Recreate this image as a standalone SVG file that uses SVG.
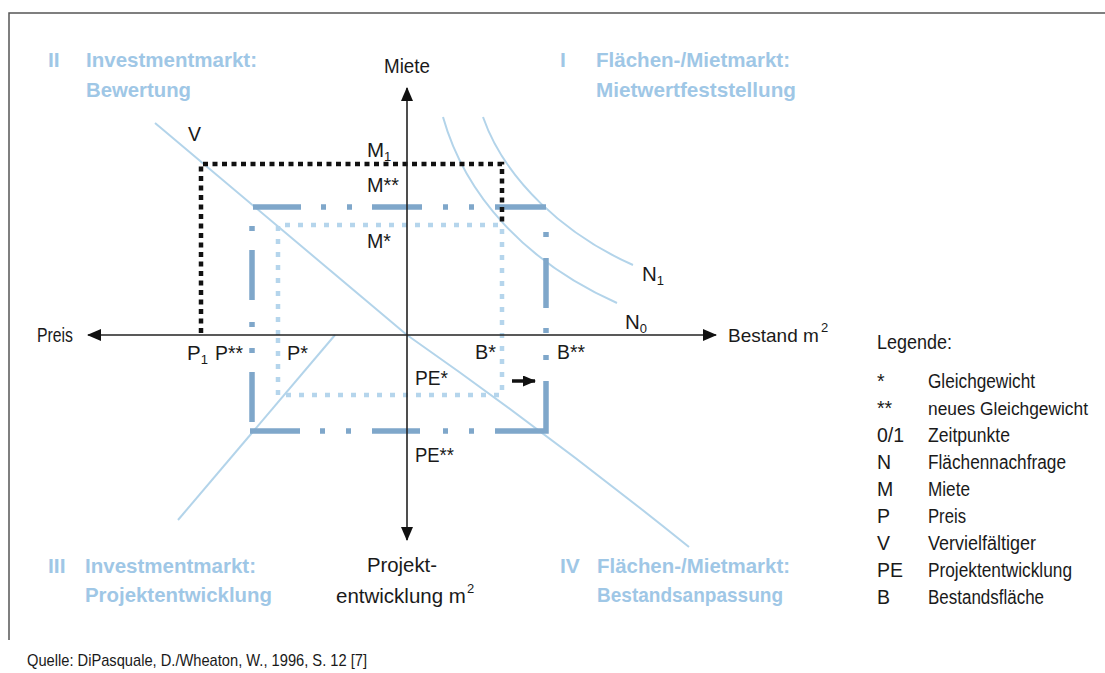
<svg xmlns="http://www.w3.org/2000/svg" width="1105" height="673" viewBox="0 0 1105 673">
<defs>
<style>
.t{font-family:"Liberation Sans",Arial,sans-serif;font-size:20.5px;fill:#1a1a1a}
.h{font-family:"Liberation Sans",Arial,sans-serif;font-size:21px;font-weight:bold;fill:#9fc7e6}
.l{font-family:"Liberation Sans",Arial,sans-serif;font-size:19.5px;fill:#1a1a1a}
.s{font-size:13px}
.sup{font-family:"Liberation Sans",Arial,sans-serif;font-size:13px;fill:#1a1a1a}
.thin{fill:none;stroke:#b3d4ea;stroke-width:2}
.axis{stroke:#222;stroke-width:1.6;fill:none}
.dark{fill:none;stroke:#7fa7ca;stroke-width:5.5}
.light{fill:none;stroke:#b5d5ec;stroke-width:4.5;stroke-dasharray:5 8}
.black{fill:none;stroke:#111;stroke-width:4.5;stroke-dasharray:5 4.5}
</style>
<marker id="ah" markerUnits="userSpaceOnUse" markerWidth="14" markerHeight="12" refX="13" refY="6" orient="auto-start-reverse">
<path d="M0,0 L14,6 L0,12 z" fill="#111"/>
</marker>
<marker id="sh" markerUnits="userSpaceOnUse" markerWidth="13" markerHeight="11" refX="12" refY="5.5" orient="auto">
<path d="M0,0 L13,5.5 L0,11 z" fill="#111"/>
</marker>
</defs>
<rect width="1105" height="673" fill="#fff"/>
<g id="frame">
<path d="M9,640 V13 H1105" fill="none" stroke="#555" stroke-width="1.5"/>
</g>
<g id="headings">
<text class="h" x="48" y="67">II</text>
<text class="h" x="86" y="67" textLength="171" lengthAdjust="spacingAndGlyphs">Investmentmarkt:</text>
<text class="h" x="86" y="97" textLength="105" lengthAdjust="spacingAndGlyphs">Bewertung</text>
<text class="h" x="560" y="67">I</text>
<text class="h" x="596" y="67" textLength="194" lengthAdjust="spacingAndGlyphs">Flächen-/Mietmarkt:</text>
<text class="h" x="596" y="97" textLength="200" lengthAdjust="spacingAndGlyphs">Mietwertfeststellung</text>
<text class="h" x="48" y="573">III</text>
<text class="h" x="85" y="573" textLength="171" lengthAdjust="spacingAndGlyphs">Investmentmarkt:</text>
<text class="h" x="85" y="602" textLength="187" lengthAdjust="spacingAndGlyphs">Projektentwicklung</text>
<text class="h" x="560" y="573">IV</text>
<text class="h" x="597" y="573" textLength="193" lengthAdjust="spacingAndGlyphs">Flächen-/Mietmarkt:</text>
<text class="h" x="597" y="602" textLength="186" lengthAdjust="spacingAndGlyphs">Bestandsanpassung</text>
</g>
<g id="curves">
<path class="thin" d="M155,123 L407,335"/>
<path class="thin" d="M407,335 Q550,435 689,547"/>
<path class="thin" d="M335,335 L178,520"/>
<path class="thin" d="M443,117 C465,195 525,262 617,303"/>
<path class="thin" d="M483,117 C505,180 565,235 633,265"/>
</g>
<g id="equilibria">
<path class="light" d="M278,335 V225 H502 V395 H278 Z"/>
<path class="dark" d="M253,207 H301 M321,207 H326 M347,207 H352 M372,207 H422 M443,207 H448 M469,207 H474 M495,207 H546 M252,226 V231 M252,250 V300 M252,322 V327 M252,348 V353 M252,372 V422 M250,431 H300 M320,431 H325 M346,431 H351 M372,431 H420 M443,431 H448 M469,431 H474 M495,431 H546 V381 M546,355 V360 M546,328 V333 M546,258 V308 M546,232 V237"/>
<path class="black" d="M201,333 V164 H502 V222"/>
</g>
<g id="axes">
<line class="axis" x1="88" y1="335" x2="716" y2="335" marker-start="url(#ah)" marker-end="url(#ah)"/>
<line class="axis" x1="407" y1="88" x2="407" y2="540" marker-start="url(#ah)" marker-end="url(#ah)"/>
<line x1="512" y1="381" x2="535" y2="381" stroke="#111" stroke-width="3.5" marker-end="url(#sh)"/>
</g>
<g id="axis-labels">
<text class="t" x="407" y="73" text-anchor="middle" textLength="46" lengthAdjust="spacingAndGlyphs">Miete</text>
<text class="t" x="37" y="342" textLength="36" lengthAdjust="spacingAndGlyphs">Preis</text>
<text class="t" x="728" y="342" style="font-size:19px">Bestand m</text>
<text class="sup" x="821" y="332">2</text>
<text class="t" x="367" y="572" textLength="70" lengthAdjust="spacingAndGlyphs">Projekt-</text>
<text class="t" x="336" y="603">entwicklung m</text>
<text class="sup" x="467" y="593">2</text>
</g>
<g id="point-labels">
<text class="t" x="188" y="141" textLength="13" lengthAdjust="spacingAndGlyphs">V</text>
<text class="t" x="367" y="157">M<tspan class="s" dy="4">1</tspan></text>
<text class="t" x="367" y="192" textLength="32" lengthAdjust="spacingAndGlyphs">M**</text>
<text class="t" x="367" y="248" textLength="24" lengthAdjust="spacingAndGlyphs">M*</text>
<text class="t" x="187" y="360">P<tspan class="s" dy="4">1</tspan></text>
<text class="t" x="215" y="360" textLength="28" lengthAdjust="spacingAndGlyphs">P**</text>
<text class="t" x="287" y="360" textLength="21" lengthAdjust="spacingAndGlyphs">P*</text>
<text class="t" x="475" y="359" textLength="21" lengthAdjust="spacingAndGlyphs">B*</text>
<text class="t" x="557" y="359" textLength="28" lengthAdjust="spacingAndGlyphs">B**</text>
<text class="t" x="415" y="385" textLength="33" lengthAdjust="spacingAndGlyphs">PE*</text>
<text class="t" x="415" y="462" textLength="39" lengthAdjust="spacingAndGlyphs">PE**</text>
<text class="t" x="642" y="281">N<tspan class="s" dy="4">1</tspan></text>
<text class="t" x="625" y="329">N<tspan class="s" dy="4">0</tspan></text>
</g>
<g id="legend">
<text class="l" x="877" y="349" textLength="75" lengthAdjust="spacingAndGlyphs">Legende:</text>
<text class="l" x="877" y="388">*</text><text class="l" x="928" y="388" textLength="107" lengthAdjust="spacingAndGlyphs">Gleichgewicht</text>
<text class="l" x="877" y="415">**</text><text class="l" x="928" y="415" style="font-size:18px" textLength="160" lengthAdjust="spacingAndGlyphs">neues Gleichgewicht</text>
<text class="l" x="877" y="442">0/1</text><text class="l" x="928" y="442" textLength="82" lengthAdjust="spacingAndGlyphs">Zeitpunkte</text>
<text class="l" x="877" y="469">N</text><text class="l" x="928" y="469" textLength="138" lengthAdjust="spacingAndGlyphs">Flächennachfrage</text>
<text class="l" x="877" y="496">M</text><text class="l" x="928" y="496" textLength="42" lengthAdjust="spacingAndGlyphs">Miete</text>
<text class="l" x="877" y="523">P</text><text class="l" x="928" y="523" textLength="38" lengthAdjust="spacingAndGlyphs">Preis</text>
<text class="l" x="877" y="550">V</text><text class="l" x="928" y="550" textLength="108" lengthAdjust="spacingAndGlyphs">Vervielfältiger</text>
<text class="l" x="877" y="577">PE</text><text class="l" x="928" y="577" textLength="144" lengthAdjust="spacingAndGlyphs">Projektentwicklung</text>
<text class="l" x="877" y="604">B</text><text class="l" x="928" y="604" textLength="116" lengthAdjust="spacingAndGlyphs">Bestandsfläche</text>
</g>
<g id="source">
<text class="l" x="27" y="666" style="font-size:17px" textLength="340" lengthAdjust="spacingAndGlyphs">Quelle: DiPasquale, D./Wheaton, W., 1996, S. 12 [7]</text>
</g>
</svg>
